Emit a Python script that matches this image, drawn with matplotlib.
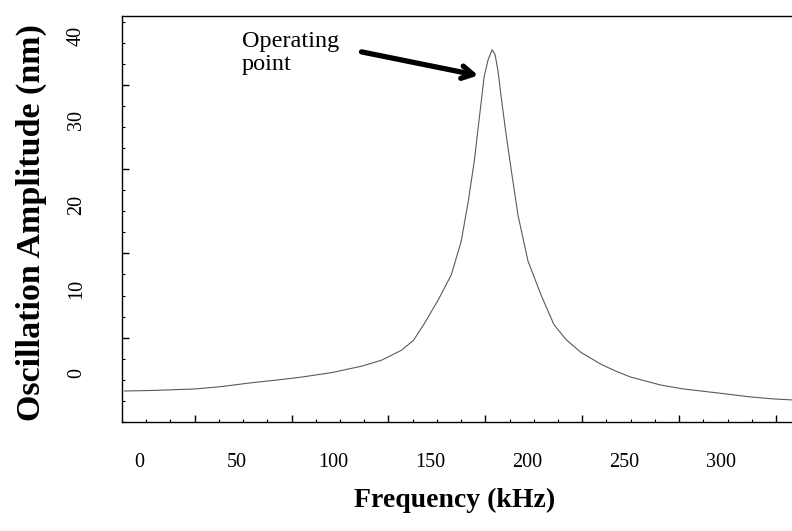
import matplotlib
matplotlib.use("Agg")
from matplotlib import pyplot as plt
import numpy as np

plt.rcParams['font.family'] = ['Liberation Serif', 'DejaVu Serif']

# resonance curve (values against the printed tick labels)
freq_khz = [-7.71, 6.68, 28.79, 42.67, 56.56, 70.95, 83.80, 99.23, 114.65, 124.94,
            135.22, 141.39, 147.04, 154.24, 160.93, 166.07, 169.67, 172.75, 175.32,
            177.89, 179.95, 182.01, 183.55, 185.09, 186.63, 189.20, 191.77, 195.37,
            200.51, 207.20, 213.88, 220.05, 227.76, 238.05, 245.76, 253.47, 268.89,
            280.72, 298.20, 315.17, 327.00, 336.76]
amp_nm = [-2.12, -2.06, -1.88, -1.59, -1.18, -0.82, -0.47, 0.06, 0.82, 1.53,
          2.71, 3.88, 5.88, 8.71, 11.65, 15.65, 20.35, 25.06, 30.12,
          35.18, 37.18, 38.35, 37.76, 35.76, 32.82, 28.35, 24.24, 18.71,
          13.29, 9.29, 5.76, 4.00, 2.47, 1.06, 0.24, -0.47, -1.41,
          -1.88, -2.35, -2.82, -3.06, -3.18]

x_labels = [0, 50, 100, 150, 200, 250, 300]
y_labels = [0, 10, 20, 30, 40]

fig = plt.figure(figsize=(7.92, 5.31), dpi=100)
ax = fig.add_axes([122 / 792, 109 / 531, 680 / 792, 406 / 531])

ax.plot(freq_khz, amp_nm, color='#5a5a5a', lw=0.8)

ax.set_xlim(-7.7, -7.7 + 680 / 1.945)
ax.set_ylim(-5.41, -5.41 + 406 / 8.5)

ax.spines['right'].set_visible(False)
for s in ['left', 'bottom', 'top']:
    ax.spines[s].set_linewidth(1.0)

# tick marks (inside); the printed labels sit between the marks
ax.set_xticks(np.arange(28.5, 340, 50), labels=[])
ax.set_xticks(np.arange(28.5 - 37.5, 340, 12.5), minor=True)
ax.set_yticks(np.arange(4.2, 43, 10), labels=[])
ax.set_yticks(np.arange(4.2 - 10, 43, 2.5), minor=True)
ax.tick_params(which='major', direction='in', length=5, width=1)
ax.tick_params(which='minor', direction='in', length=2.5, width=0.8)

secx = ax.secondary_xaxis('bottom')
secx.set_xticks(x_labels)
secx.tick_params(length=0, pad=22, labelsize=14.5)
secx.spines['bottom'].set_visible(False)

secy = ax.secondary_yaxis('left')
secy.set_yticks(y_labels)
secy.tick_params(length=0, pad=26, labelsize=14.5)
for t in secy.get_yticklabels():
    t.set_rotation(90)
    t.set_va('center')
secy.spines['left'].set_visible(False)

fig.text(455 / 792, 1 - 500 / 531, 'Frequency (kHz)', ha='center', va='center',
         fontsize=20, fontweight='bold')
fig.text(31 / 792, 1 - 223 / 531, 'Oscillation Amplitude (nm)', ha='center', va='center',
         rotation=90, fontsize=24.5, fontweight='bold')

ax.annotate('', xy=(174.8, 35.3), xytext=(114.6, 38.1),
            arrowprops=dict(arrowstyle='->,head_length=0.8,head_width=0.45', lw=3.8,
                            color='black', shrinkA=0, shrinkB=0))
ax.text(53, 40.6, 'Operating\npoint', fontsize=17.5, va='top', ha='left', linespacing=1.12)

fig.savefig('out.png', dpi=100)
